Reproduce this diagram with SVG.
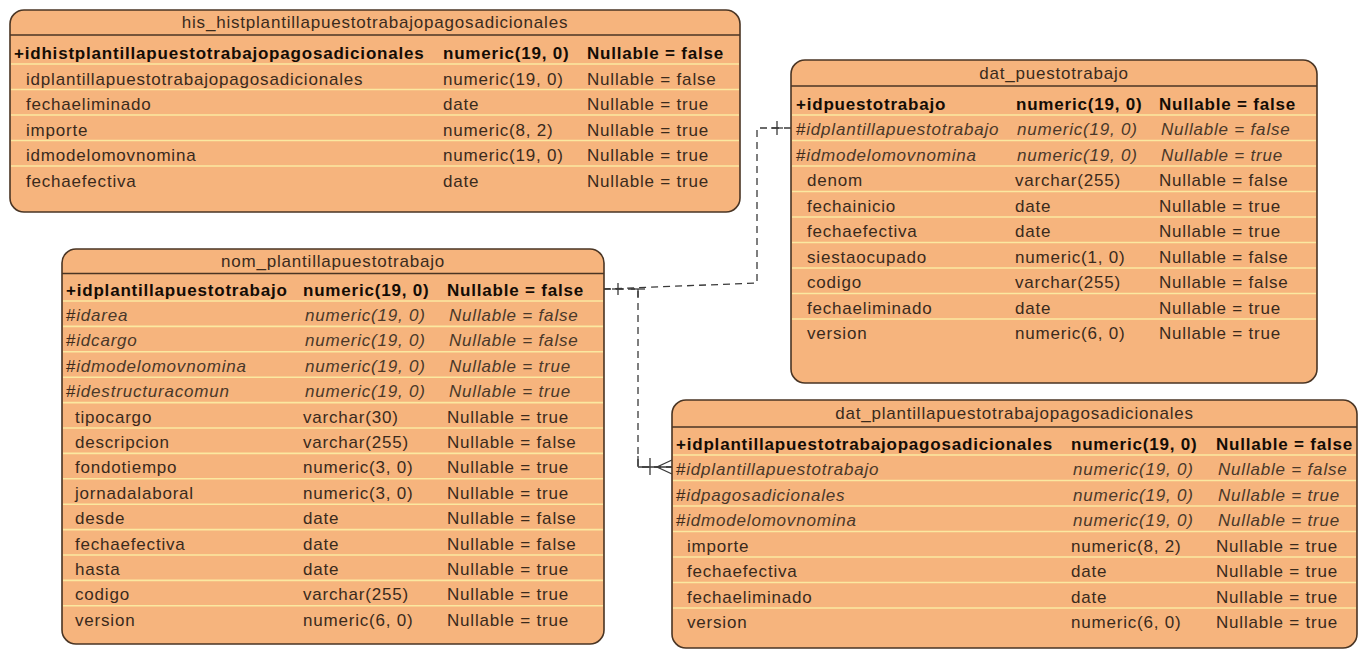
<svg xmlns="http://www.w3.org/2000/svg" width="1359" height="652" viewBox="0 0 1359 652">
<style>
.box{fill:#F6B47D;stroke:#4a3524;stroke-width:1.6}
.hsep{stroke:#4a3524;stroke-width:1.5}
.rsep{stroke:#FBE8A0;stroke-width:1.6}
text{font-family:"Liberation Sans",Arial,sans-serif;font-size:17px;letter-spacing:0.8px;fill:#3a2a1c}
.ttl{text-anchor:middle;fill:#3a2a1c}
.b{font-weight:bold;fill:#140c05}
.i{font-style:italic;fill:#4a3829}
.conn{fill:none;stroke:#3a3a3a;stroke-width:1.3;stroke-dasharray:7 5}
.mark{fill:none;stroke:#3a3a3a;stroke-width:1.3}
</style>
<rect width="1359" height="652" fill="#ffffff"/>

<g id="connectors">
<path class="conn" d="M791,128 H757 V283 L604,289"/>
<path class="conn" d="M604,289 H638 V467 H672"/>
<line class="mark" x1="777" y1="121" x2="777" y2="135"/>
<line class="mark" x1="771" y1="128" x2="783" y2="128"/>
<line class="mark" x1="618" y1="283" x2="618" y2="295"/>
<line class="mark" x1="612" y1="289" x2="624" y2="289"/>
<line class="mark" x1="631" y1="289" x2="645" y2="289"/>
<line class="mark" x1="638" y1="289" x2="638" y2="297"/>
<line class="mark" x1="638" y1="456" x2="638" y2="467"/>
<line class="mark" x1="638" y1="467" x2="672" y2="467"/>
<line class="mark" x1="650" y1="458" x2="650" y2="475"/>
<polyline class="mark" points="672,460 657,467 672,474"/>
</g>

<g id="his_histplantillapuestotrabajopagosadicionales">
<rect class="box" x="10" y="10" width="730" height="202" rx="14"/>
<line class="hsep" x1="10" y1="35" x2="740" y2="35"/>
<g class="rsep"><line x1="11" y1="64" x2="739" y2="64"/><line x1="11" y1="89.5" x2="739" y2="89.5"/><line x1="11" y1="115" x2="739" y2="115"/><line x1="11" y1="140.5" x2="739" y2="140.5"/><line x1="11" y1="166" x2="739" y2="166"/></g>
<text class="ttl" x="375" y="28">his_histplantillapuestotrabajopagosadicionales</text>
<text class="b" x="14" y="59">+idhistplantillapuestotrabajopagosadicionales</text><text class="b" x="443" y="59">numeric(19, 0)</text><text class="b" x="587" y="59">Nullable = false</text>
<text x="26" y="84.5">idplantillapuestotrabajopagosadicionales</text><text x="443" y="84.5">numeric(19, 0)</text><text x="587" y="84.5">Nullable = false</text>
<text x="26" y="110">fechaeliminado</text><text x="443" y="110">date</text><text x="587" y="110">Nullable = true</text>
<text x="26" y="135.5">importe</text><text x="443" y="135.5">numeric(8, 2)</text><text x="587" y="135.5">Nullable = true</text>
<text x="26" y="161">idmodelomovnomina</text><text x="443" y="161">numeric(19, 0)</text><text x="587" y="161">Nullable = true</text>
<text x="26" y="186.5">fechaefectiva</text><text x="443" y="186.5">date</text><text x="587" y="186.5">Nullable = true</text>
</g>

<g id="dat_puestotrabajo">
<rect class="box" x="791" y="60" width="526" height="323" rx="14"/>
<line class="hsep" x1="791" y1="86" x2="1317" y2="86"/>
<g class="rsep"><line x1="792" y1="115" x2="1316" y2="115"/><line x1="792" y1="140.5" x2="1316" y2="140.5"/><line x1="792" y1="166" x2="1316" y2="166"/><line x1="792" y1="191.5" x2="1316" y2="191.5"/><line x1="792" y1="217" x2="1316" y2="217"/><line x1="792" y1="242.5" x2="1316" y2="242.5"/><line x1="792" y1="268" x2="1316" y2="268"/><line x1="792" y1="293.5" x2="1316" y2="293.5"/><line x1="792" y1="319" x2="1316" y2="319"/></g>
<text class="ttl" x="1054" y="79">dat_puestotrabajo</text>
<text class="b" x="796" y="109.5">+idpuestotrabajo</text><text class="b" x="1016" y="109.5">numeric(19, 0)</text><text class="b" x="1159" y="109.5">Nullable = false</text>
<text x="796" y="135">#<tspan class="i">idplantillapuestotrabajo</tspan></text><text class="i" x="1017" y="135">numeric(19, 0)</text><text class="i" x="1161" y="135">Nullable = false</text>
<text x="796" y="160.5">#<tspan class="i">idmodelomovnomina</tspan></text><text class="i" x="1017" y="160.5">numeric(19, 0)</text><text class="i" x="1161" y="160.5">Nullable = true</text>
<text x="807" y="186">denom</text><text x="1015" y="186">varchar(255)</text><text x="1159" y="186">Nullable = false</text>
<text x="807" y="211.5">fechainicio</text><text x="1015" y="211.5">date</text><text x="1159" y="211.5">Nullable = true</text>
<text x="807" y="237">fechaefectiva</text><text x="1015" y="237">date</text><text x="1159" y="237">Nullable = true</text>
<text x="807" y="262.5">siestaocupado</text><text x="1015" y="262.5">numeric(1, 0)</text><text x="1159" y="262.5">Nullable = false</text>
<text x="807" y="288">codigo</text><text x="1015" y="288">varchar(255)</text><text x="1159" y="288">Nullable = false</text>
<text x="807" y="313.5">fechaeliminado</text><text x="1015" y="313.5">date</text><text x="1159" y="313.5">Nullable = true</text>
<text x="807" y="339">version</text><text x="1015" y="339">numeric(6, 0)</text><text x="1159" y="339">Nullable = true</text>
</g>

<g id="nom_plantillapuestotrabajo">
<rect class="box" x="62" y="249" width="542" height="395" rx="14"/>
<line class="hsep" x1="62" y1="273.5" x2="604" y2="273.5"/>
<g class="rsep"><line x1="63" y1="301" x2="603" y2="301"/><line x1="63" y1="326.4" x2="603" y2="326.4"/><line x1="63" y1="351.8" x2="603" y2="351.8"/><line x1="63" y1="377.2" x2="603" y2="377.2"/><line x1="63" y1="402.6" x2="603" y2="402.6"/><line x1="63" y1="428" x2="603" y2="428"/><line x1="63" y1="453.4" x2="603" y2="453.4"/><line x1="63" y1="478.8" x2="603" y2="478.8"/><line x1="63" y1="504.2" x2="603" y2="504.2"/><line x1="63" y1="529.6" x2="603" y2="529.6"/><line x1="63" y1="555" x2="603" y2="555"/><line x1="63" y1="580.4" x2="603" y2="580.4"/><line x1="63" y1="605.8" x2="603" y2="605.8"/></g>
<text class="ttl" x="333" y="267">nom_plantillapuestotrabajo</text>
<text class="b" x="66" y="295.5">+idplantillapuestotrabajo</text><text class="b" x="303" y="295.5">numeric(19, 0)</text><text class="b" x="447" y="295.5">Nullable = false</text>
<text x="66" y="320.9">#<tspan class="i">idarea</tspan></text><text class="i" x="305" y="320.9">numeric(19, 0)</text><text class="i" x="449" y="320.9">Nullable = false</text>
<text x="66" y="346.3">#<tspan class="i">idcargo</tspan></text><text class="i" x="305" y="346.3">numeric(19, 0)</text><text class="i" x="449" y="346.3">Nullable = false</text>
<text x="66" y="371.7">#<tspan class="i">idmodelomovnomina</tspan></text><text class="i" x="305" y="371.7">numeric(19, 0)</text><text class="i" x="449" y="371.7">Nullable = true</text>
<text x="66" y="397.1">#<tspan class="i">idestructuracomun</tspan></text><text class="i" x="305" y="397.1">numeric(19, 0)</text><text class="i" x="449" y="397.1">Nullable = true</text>
<text x="75" y="422.5">tipocargo</text><text x="303" y="422.5">varchar(30)</text><text x="447" y="422.5">Nullable = true</text>
<text x="75" y="447.9">descripcion</text><text x="303" y="447.9">varchar(255)</text><text x="447" y="447.9">Nullable = false</text>
<text x="75" y="473.3">fondotiempo</text><text x="303" y="473.3">numeric(3, 0)</text><text x="447" y="473.3">Nullable = true</text>
<text x="75" y="498.7">jornadalaboral</text><text x="303" y="498.7">numeric(3, 0)</text><text x="447" y="498.7">Nullable = true</text>
<text x="75" y="524.1">desde</text><text x="303" y="524.1">date</text><text x="447" y="524.1">Nullable = false</text>
<text x="75" y="549.5">fechaefectiva</text><text x="303" y="549.5">date</text><text x="447" y="549.5">Nullable = false</text>
<text x="75" y="574.9">hasta</text><text x="303" y="574.9">date</text><text x="447" y="574.9">Nullable = true</text>
<text x="75" y="600.3">codigo</text><text x="303" y="600.3">varchar(255)</text><text x="447" y="600.3">Nullable = true</text>
<text x="75" y="625.7">version</text><text x="303" y="625.7">numeric(6, 0)</text><text x="447" y="625.7">Nullable = true</text>
</g>

<g id="dat_plantillapuestotrabajopagosadicionales">
<rect class="box" x="672" y="400" width="685" height="248" rx="14"/>
<line class="hsep" x1="672" y1="427" x2="1357" y2="427"/>
<g class="rsep"><line x1="673" y1="455" x2="1356" y2="455"/><line x1="673" y1="480.5" x2="1356" y2="480.5"/><line x1="673" y1="506" x2="1356" y2="506"/><line x1="673" y1="531.5" x2="1356" y2="531.5"/><line x1="673" y1="557" x2="1356" y2="557"/><line x1="673" y1="582.5" x2="1356" y2="582.5"/><line x1="673" y1="608" x2="1356" y2="608"/></g>
<text class="ttl" x="1014.5" y="419">dat_plantillapuestotrabajopagosadicionales</text>
<text class="b" x="676" y="449.5">+idplantillapuestotrabajopagosadicionales</text><text class="b" x="1071" y="449.5">numeric(19, 0)</text><text class="b" x="1216" y="449.5">Nullable = false</text>
<text x="676" y="475">#<tspan class="i">idplantillapuestotrabajo</tspan></text><text class="i" x="1073" y="475">numeric(19, 0)</text><text class="i" x="1218" y="475">Nullable = false</text>
<text x="676" y="500.5">#<tspan class="i">idpagosadicionales</tspan></text><text class="i" x="1073" y="500.5">numeric(19, 0)</text><text class="i" x="1218" y="500.5">Nullable = true</text>
<text x="676" y="526">#<tspan class="i">idmodelomovnomina</tspan></text><text class="i" x="1073" y="526">numeric(19, 0)</text><text class="i" x="1218" y="526">Nullable = true</text>
<text x="687" y="551.5">importe</text><text x="1071" y="551.5">numeric(8, 2)</text><text x="1216" y="551.5">Nullable = true</text>
<text x="687" y="577">fechaefectiva</text><text x="1071" y="577">date</text><text x="1216" y="577">Nullable = true</text>
<text x="687" y="602.5">fechaeliminado</text><text x="1071" y="602.5">date</text><text x="1216" y="602.5">Nullable = true</text>
<text x="687" y="628">version</text><text x="1071" y="628">numeric(6, 0)</text><text x="1216" y="628">Nullable = true</text>
</g>
</svg>
